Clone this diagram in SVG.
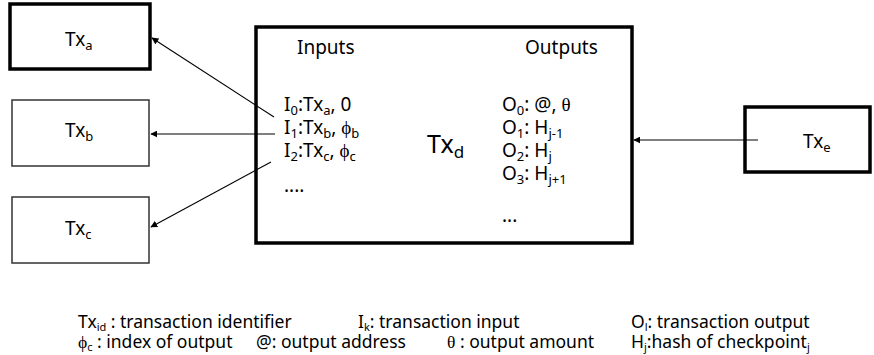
<svg xmlns="http://www.w3.org/2000/svg" width="874" height="355" viewBox="0 0 874 355">
  <style>
    text { font-family: "Noto Sans", "Open Sans", sans-serif; fill: #000; }
    .lbl { font-size: 19px; }
    .box-thick { fill: #fff; stroke: #000; stroke-width: 3.5; }
    .box-thin { fill: #fff; stroke: #333; stroke-width: 1.5; }
    .io { font-size: 19px; }
    .leg { font-size: 17.5px; }
    .sub { font-size: 13px; }
    .lsub { font-size: 11px; }
    .greek { font-family: "Liberation Serif", "DejaVu Serif", serif; }
    .conn { stroke: #000; stroke-width: 1.1; fill: none; marker-end: url(#arrow); }
  </style>
  <defs>
    <marker id="arrow" viewBox="0 0 10 10" refX="9" refY="5" markerWidth="7" markerHeight="7" orient="auto" markerUnits="userSpaceOnUse">
      <path d="M0,0 L10,5 L0,10 z" fill="#000"/>
    </marker>
  </defs>
  <rect width="874" height="355" fill="#fff"/>

  <!-- transaction d: central box -->
  <g id="tx-d">
    <rect class="box-thick" x="256" y="27" width="376" height="216"/>
    <text class="io" x="297" y="54">Inputs</text>
    <text class="io" x="525" y="54">Outputs</text>
    <text class="io" x="284" y="111">I<tspan class="sub" dy="4">0</tspan><tspan dy="-4">:Tx</tspan><tspan class="sub" dy="4">a</tspan><tspan dy="-4">, 0</tspan></text>
    <text class="io" x="284" y="134">I<tspan class="sub" dy="4">1</tspan><tspan dy="-4">:Tx</tspan><tspan class="sub" dy="4">b</tspan><tspan dy="-4">, </tspan><tspan class="greek">ϕ</tspan><tspan class="sub" dy="4">b</tspan></text>
    <text class="io" x="284" y="157">I<tspan class="sub" dy="4">2</tspan><tspan dy="-4">:Tx</tspan><tspan class="sub" dy="4">c</tspan><tspan dy="-4">, </tspan><tspan class="greek">ϕ</tspan><tspan class="sub" dy="4">c</tspan></text>
    <text class="io" x="284" y="192">....</text>
    <text x="427" y="153" font-size="25">Tx<tspan font-size="17" dy="5">d</tspan></text>
    <text class="io" x="502" y="111">O<tspan class="sub" dy="4">0</tspan><tspan dy="-4">: @, </tspan><tspan class="greek">θ</tspan></text>
    <text class="io" x="502" y="134">O<tspan class="sub" dy="4">1</tspan><tspan dy="-4">: H</tspan><tspan class="sub" dy="4">j-1</tspan></text>
    <text class="io" x="502" y="157">O<tspan class="sub" dy="4">2</tspan><tspan dy="-4">: H</tspan><tspan class="sub" dy="4">j</tspan></text>
    <text class="io" x="502" y="180">O<tspan class="sub" dy="4">3</tspan><tspan dy="-4">: H</tspan><tspan class="sub" dy="4">j+1</tspan></text>
    <text class="io" x="502" y="222">...</text>
  </g>

  <!-- referenced transactions -->
  <g id="tx-a">
    <rect class="box-thick" x="10" y="4" width="140" height="65"/>
    <text class="lbl" x="65" y="46">Tx<tspan class="sub" dy="4">a</tspan></text>
  </g>
  <g id="tx-b">
    <rect class="box-thin" x="12" y="100" width="137" height="66"/>
    <text class="lbl" x="65" y="137">Tx<tspan class="sub" dy="4">b</tspan></text>
  </g>
  <g id="tx-c">
    <rect class="box-thin" x="12" y="197" width="137" height="66"/>
    <text class="lbl" x="65" y="235">Tx<tspan class="sub" dy="4">c</tspan></text>
  </g>
  <g id="tx-e">
    <rect class="box-thick" x="745" y="107" width="125" height="65"/>
    <text class="lbl" x="803" y="148">Tx<tspan class="sub" dy="4">e</tspan></text>
  </g>

  <!-- connectors -->
  <g id="connectors">
    <line class="conn" x1="274" y1="117" x2="152" y2="38"/>
    <line class="conn" x1="275" y1="134" x2="151" y2="134"/>
    <line class="conn" x1="271" y1="162" x2="151" y2="227"/>
    <line class="conn" x1="758" y1="140" x2="634" y2="140"/>
  </g>

  <!-- legend -->
  <g id="legend">
    <text class="leg" x="78" y="328">Tx<tspan class="lsub" dy="3">id</tspan><tspan dy="-3"> : transaction identifier</tspan></text>
    <text class="leg" x="358" y="328">I<tspan class="lsub" dy="3">k</tspan><tspan dy="-3">: transaction input</tspan></text>
    <text class="leg" x="631" y="328">O<tspan class="lsub" dy="3">l</tspan><tspan dy="-3">: transaction output</tspan></text>
    <text class="leg" x="78" y="348"><tspan class="greek">ϕ</tspan><tspan class="lsub" dy="3">c</tspan><tspan dy="-3"> : index of output</tspan></text>
    <text class="leg" x="256" y="348">@: output address</text>
    <text class="leg" x="447" y="348"><tspan class="greek">θ</tspan> : output amount</text>
    <text class="leg" x="631" y="348">H<tspan class="lsub" dy="3">j</tspan><tspan dy="-3">:hash of checkpoint</tspan><tspan class="lsub" dy="3">j</tspan></text>
  </g>
</svg>
